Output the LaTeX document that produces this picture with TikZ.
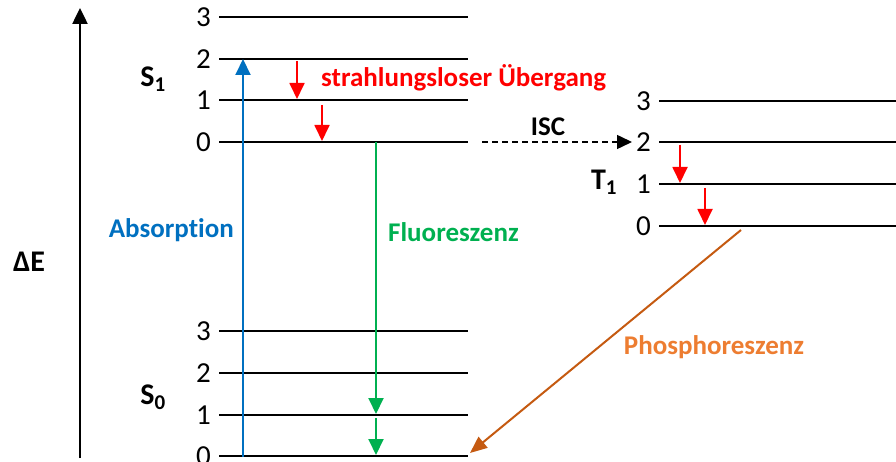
\documentclass[tikz,border=0pt]{standalone}
\usepackage{fontspec}
\setmainfont{Carlito}[Ligatures=NoCommon]
\usetikzlibrary{arrows.meta}
\definecolor{absblue}{RGB}{0,112,192}
\definecolor{flgreen}{RGB}{0,176,80}
\definecolor{phline}{RGB}{197,90,17}
\definecolor{phtext}{RGB}{237,125,49}
\tikzset{
  level/.style={line width=2.5pt, black},
  num/.style={anchor=east, inner sep=0pt, font=\fontsize{29}{32}\selectfont},
  state/.style={inner sep=0pt, font=\fontsize{30}{32}\selectfont\bfseries},
  lbl/.style={inner sep=0pt, font=\fontsize{27}{30}\selectfont\bfseries},
  tip/.style={-{Triangle[width=15pt,length=16pt]}},
  relax/.style={tip, red, line width=1.8pt},
}
\begin{document}
\begin{tikzpicture}[x=1pt,y=-1pt]
\useasboundingbox (0,0) rectangle (896,462);

% energy axis
\coordinate (axb) at (80,458);
\coordinate (axt) at (80,8);
\draw[line width=2.5pt, -{Triangle[width=15pt,length=16pt]}] (axb) -- (axt);
\node[state] (dE) at (29,262) {ΔE};

% S1 levels
\foreach \v/\y in {3/17,2/59,1/100,0/142}{
  \coordinate (s1l\v) at (219,\y);
  \coordinate (s1r\v) at (468,\y);
  \draw[level] (s1l\v) -- (s1r\v);
  \node[num] (s1n\v) at (211,\y) {\v};
}
% S0 levels
\foreach \v/\y in {3/331,2/373,1/415,0/456}{
  \coordinate (s0l\v) at (219,\y);
  \coordinate (s0r\v) at (468,\y);
  \draw[level] (s0l\v) -- (s0r\v);
  \node[num] (s0n\v) at (211,\y) {\v};
}
% T1 levels
\foreach \v/\y in {3/101,2/142,1/184,0/226}{
  \coordinate (t1l\v) at (659,\y);
  \coordinate (t1r\v) at (896,\y);
  \draw[level] (t1l\v) -- (t1r\v);
  \node[num] (t1n\v) at (651,\y) {\v};
}

\node[state] (S1) at (153,79) {S\textsubscript{1}};
\node[state] (S0) at (153,397) {S\textsubscript{0}};
\node[state] (T1) at (604,182) {T\textsubscript{1}};

% absorption
\coordinate (abs0) at (243,457);
\coordinate (abs1) at (243,59);
\draw[tip, absblue, line width=2pt] (abs0) -- (abs1);
\node[lbl, absblue, anchor=east] (absl) at (234,230) {Absorption};

% fluorescence
\coordinate (fl0) at (376,142);
\coordinate (fl1) at (376,414);
\coordinate (fl2) at (376,418);
\coordinate (fl3) at (376,455);
\draw[tip, flgreen, line width=2pt] (fl0) -- (fl1);
\draw[tip, flgreen, line width=2pt] (fl2) -- (fl3);
\node[lbl, flgreen, anchor=west] (fll) at (388,232) {Fluoreszenz};

% radiationless transitions in S1
\coordinate (ra0) at (297,61);
\coordinate (ra1) at (297,99);
\coordinate (rb0) at (322,105);
\coordinate (rb1) at (322,141);
\draw[relax] (ra0) -- (ra1);
\draw[relax] (rb0) -- (rb1);
\node[lbl, red, anchor=west] (rl) at (321,78) {strahlungsloser Übergang};

% radiationless transitions in T1
\coordinate (rc0) at (680,145);
\coordinate (rc1) at (680,183);
\coordinate (rd0) at (705,188);
\coordinate (rd1) at (705,225);
\draw[relax] (rc0) -- (rc1);
\draw[relax] (rd0) -- (rd1);

% intersystem crossing
\coordinate (isc0) at (482,142);
\coordinate (isc1) at (632,142);
\draw[dashed, dash pattern=on 6pt off 4pt, line width=1.5pt, -{Triangle[width=14pt,length=15pt]}] (isc0) -- (isc1);
\node[lbl, anchor=center] (iscl) at (548,127) {ISC};

% phosphorescence
\coordinate (ph0) at (741,230);
\coordinate (ph1) at (470,453);
\draw[phline, line width=2pt, -{Triangle[width=14pt,length=17pt]}] (ph0) -- (ph1);
\node[lbl, phtext, anchor=center] (phl) at (714,347) {Phosphoreszenz};
\end{tikzpicture}
\end{document}
